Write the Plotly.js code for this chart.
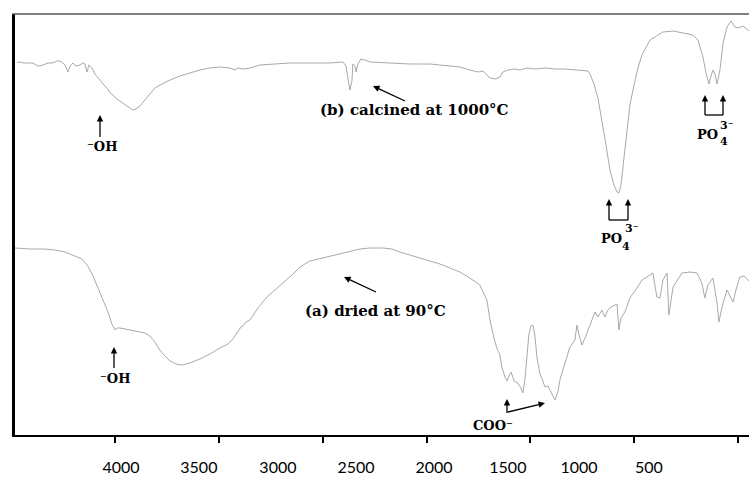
<!DOCTYPE html>
<html><head><meta charset="utf-8">
<script src="https://cdn.plot.ly/plotly-3.0.1.min.js"></script>
<style>html,body{margin:0;padding:0;background:#fff}#chart{width:749px;height:497px}</style>
</head><body><div id="chart"></div>
<script>
// (b) calcined at 1000 °C  — wavenumber (cm-1) / transmittance (a.u.)
const bWavenumber = [3975,3936,3898,3873,3849,3825,3801,3782,3767,3753,3743,3729,3719,3705,3690,3671,3657,3647,3637,3628,3613,3599,3589,3575,3555,3541,3526,3512,3493,3478,3454,3430,3416,3401,3382,3358,3334,3310,3276,3237,3189,3141,3093,3045,2997,2948,2924,2910,2886,2852,2804,2731,2659,2563,2466,2404,2389,2380,2370,2360,2356,2346,2341,2331,2317,2298,2274,2177,2081,1984,1936,1888,1840,1792,1753,1729,1695,1671,1647,1633,1609,1575,1551,1517,1478,1430,1382,1334,1223,1213,1194,1175,1156,1136,1117,1098,1083,1074,1064,1050,1035,1021,1001,982,963,944,924,900,862,813,756,717,693,669,655,640,630,621,611,601,587,572,553,534,515,500,476,452,447];
const bTransmittance = [374,373,373,370,371,373,373,375,375,373,371,364,370,373,370,371,373,372,364,371,368,362,359,356,351,348,343,341,337,335,332,328,326,327,330,336,343,348,352,356,360,363,366,368,369,368,366,368,367,368,371,372,373,373,373,374,370,358,346,356,372,370,364,372,377,376,374,373,372,372,371,370,369,366,364,365,358,357,359,364,366,367,366,368,367,368,367,367,365,362,352,338,316,291,266,251,244,243,251,276,306,331,351,368,381,389,396,399,404,405,403,401,396,379,364,352,360,366,362,352,366,393,409,415,409,408,410,406,405];

// (a) dried at 90 °C
const aWavenumber = [3984,3912,3840,3792,3743,3695,3661,3633,3608,3584,3560,3536,3517,3502,3493,3478,3454,3406,3358,3334,3310,3286,3262,3237,3209,3180,3141,3093,3045,2997,2958,2934,2910,2895,2886,2871,2852,2813,2770,2731,2693,2649,2611,2563,2481,2418,2370,2322,2274,2211,2168,2129,2066,1999,1936,1888,1840,1792,1744,1710,1695,1676,1662,1647,1638,1623,1613,1604,1594,1585,1580,1561,1546,1537,1527,1517,1508,1498,1488,1479,1469,1455,1440,1430,1416,1401,1382,1368,1358,1344,1329,1310,1286,1276,1266,1252,1237,1223,1204,1189,1175,1156,1141,1127,1112,1093,1083,1074,1064,1045,1021,987,963,939,924,910,891,876,862,842,833,813,770,731,698,674,660,645,621,601,592,577,553,539,524,510,491,471,452,447];
const aTransmittance = [188,187,187,186,184,180,177,170,160,148,136,124,112,106,108,108,107,105,103,100,94,86,80,75,72,71,73,77,82,88,92,97,104,109,110,114,116,128,139,146,153,161,169,175,179,182,184,187,188,188,187,184,180,176,172,168,164,158,151,136,116,98,88,81,69,59,55,60,64,59,55,53,48,43,56,79,101,110,111,101,79,63,54,49,50,44,36,44,56,66,76,89,96,111,101,91,98,106,116,124,119,126,119,126,129,131,132,106,118,124,138,148,156,159,161,163,139,138,156,163,121,149,163,164,163,153,138,151,158,133,114,129,146,140,134,146,159,160,156,155];

const tickValues = [3500,3000,2500,2000,1500,1000,500];
const tickLabels = ['4000','3500','3000','2500','2000','1500','1000','500'];
const tickLabelPos = [3473,3098,2717,2341,1965,1609,1266,929];

const xRange = [3984, 447];
const yRange = [1, 422];

// layout helpers: image pixel -> paper fraction
const L = 15, W = 734, TOP = 14, BOT = 435, H = BOT - TOP;
const px = x => (x - L) / W;
const py = y => (BOT - y) / H;

const lineStyle = {color: '#a9a9a9', width: 1};
const traces = [
  {x: aWavenumber, y: aTransmittance, type: 'scatter', mode: 'lines', line: lineStyle, name: '(a) dried at 90 °C', hoverinfo: 'x+y'},
  {x: bWavenumber, y: bTransmittance, type: 'scatter', mode: 'lines', line: lineStyle, name: '(b) calcined at 1000 °C', hoverinfo: 'x+y'},
  {x: [], y: [], xaxis: 'x2', yaxis: 'y', type: 'scatter', mode: 'lines', showlegend: false, hoverinfo: 'skip'}
];

const serif = {family: 'DejaVu Serif', size: 15, color: '#000', weight: 'bold'};
const small = {family: 'DejaVu Serif', size: 13, color: '#000', weight: 'bold'};
const tiny = {family: 'DejaVu Serif', size: 11, color: '#000', weight: 'bold'};

function label(x, y, text, font) {
  return {xref: 'paper', yref: 'paper', x: px(x), y: py(y), text: text, showarrow: false,
          xanchor: 'center', yanchor: 'middle', font: font};
}

// arrow drawn as a line shape plus a filled triangular head
function arrowShapes(hx, hy, tx, ty) {
  const dx = hx - tx, dy = hy - ty, len = Math.hypot(dx, dy);
  const ux = dx / len, uy = dy / len, nx = -uy, ny = ux;
  const hl = 6.5, hw = 3.2;
  const bx = hx - hl * ux, by = hy - hl * uy;
  return [
    {type: 'line', xref: 'paper', yref: 'paper', x0: px(tx), y0: py(ty), x1: px(bx + ux), y1: py(by + uy),
     line: {color: '#000', width: 1.3}},
    {type: 'path', xref: 'paper', yref: 'paper',
     path: 'M' + px(hx) + ',' + py(hy) + 'L' + px(bx + hw * nx) + ',' + py(by + hw * ny) +
           'L' + px(bx - hw * nx) + ',' + py(by - hw * ny) + 'Z',
     fillcolor: '#000', line: {width: 0}}
  ];
}

const annotations = [
  label(102, 146, '⁻OH', small),
  label(414, 110, '(b) calcined at 1000°C', serif),
  label(611, 238, 'PO', small),
  label(632, 229, '3⁻', tiny),
  label(626, 246, '4', tiny),
  label(707, 134, 'PO', small),
  label(727, 125, '3⁻', tiny),
  label(724, 141, '4', tiny),
  label(115, 378, '⁻OH', small),
  label(375, 311, '(a) dried at 90°C', serif),
  label(493, 425, 'COO⁻', small)
];

const shapes = [].concat(
  [{type: 'line', xref: 'paper', yref: 'paper', x0: px(12), x1: 1, y0: 1, y1: 1, line: {color: '#555', width: 1.5}},
   {type: 'line', xref: 'paper', yref: 'paper', x0: px(609), x1: px(628), y0: py(220), y1: py(220), line: {color: '#000', width: 1.3}},
   {type: 'line', xref: 'paper', yref: 'paper', x0: px(705), x1: px(723), y0: py(115), y1: py(115), line: {color: '#000', width: 1.3}}],
  arrowShapes(100, 115, 100, 137),
  arrowShapes(373, 86, 405, 101),
  arrowShapes(609, 199, 609, 220),
  arrowShapes(628, 199, 628, 220),
  arrowShapes(705, 95, 705, 115),
  arrowShapes(723, 95, 723, 115),
  arrowShapes(114, 347, 114, 368),
  arrowShapes(344, 277, 376, 292),
  arrowShapes(507, 399, 507, 413),
  arrowShapes(545, 403, 508, 412)
);

const layout = {
  width: 749, height: 497,
  margin: {l: L, r: 0, t: TOP, b: 497 - BOT},
  paper_bgcolor: '#fff', plot_bgcolor: '#fff',
  showlegend: false,
  xaxis: {range: xRange, showgrid: false, zeroline: false, showline: true, linecolor: '#000', linewidth: 2,
          ticks: 'outside', ticklen: 6, tickwidth: 2, tickcolor: '#000', tickmode: 'array', tickvals: tickValues,
          showticklabels: false},
  xaxis2: {range: xRange, overlaying: 'x', anchor: 'y', side: 'bottom', showgrid: false, zeroline: false,
           showline: false, ticks: 'outside', ticklen: 18, tickcolor: 'rgba(0,0,0,0)', tickmode: 'array',
           tickvals: tickLabelPos, ticktext: tickLabels,
           tickfont: {family: 'Lato', size: 16, color: '#000'}},
  yaxis: {range: yRange, showgrid: false, zeroline: false, showline: true, linecolor: '#000', linewidth: 3,
          ticks: '', showticklabels: false},
  annotations: annotations,
  shapes: shapes
};

Plotly.newPlot('chart', traces, layout, {displayModeBar: false, staticPlot: true});
</script>
</body></html>
